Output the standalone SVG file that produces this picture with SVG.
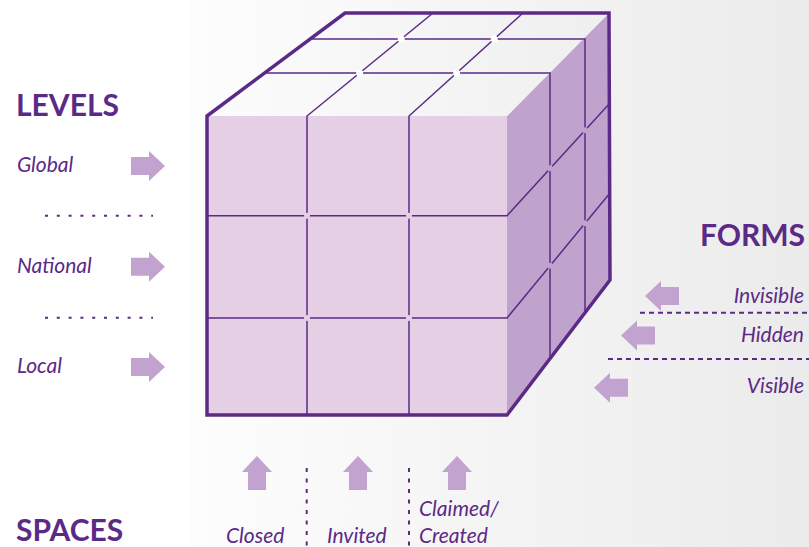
<svg xmlns="http://www.w3.org/2000/svg" width="809" height="547" viewBox="0 0 809 547">
<defs>
<linearGradient id="bg" x1="0" y1="0" x2="1" y2="0">
<stop offset="0" stop-color="#fdfdfd"/>
<stop offset="1" stop-color="#ebebeb"/>
</linearGradient>
<linearGradient id="topg" x1="0" y1="0" x2="1" y2="0">
<stop offset="0" stop-color="#fcfcfc"/>
<stop offset="1" stop-color="#efefef"/>
</linearGradient>
<path id="arr" d="M0,-9 H18 V-15 L34,0 L18,15 V9 H0 Z"/>
</defs>
<style>
.lbl{font-family:Lato,"Open Sans",sans-serif;font-style:italic;font-size:21px;fill:#5b2a86}
.hd{font-family:Lato,"Open Sans",sans-serif;font-weight:bold;font-size:30px;fill:#5b2a86}
.ar{fill:#c2a3cf}
.grid{stroke:#5b2a86;stroke-width:1.5;fill:none}
.dot{stroke:#5b2a86;stroke-width:2;fill:none;stroke-dasharray:3 8.8}
.dash{stroke:#5b2a86;stroke-width:2;fill:none;stroke-dasharray:5 4}
.vd{stroke:#5b2a86;stroke-width:2;fill:none;stroke-dasharray:4 6.5}
</style>
<rect width="809" height="547" fill="#ffffff"/>
<rect x="190" width="619" height="547" fill="url(#bg)"/>

<g id="cube">
<rect x="207" y="116" width="300" height="299" fill="#e5cfe4"/>
<polygon points="507,116 609,13 610,280 507,415" fill="#c0a3cc"/>
<polygon points="207,116 345,13 609,13 507,116" fill="url(#topg)"/>
<g class="grid">
<path d="M266,73 H550 V358.6"/>
<path d="M311,39 H585 V312.8"/>
<path d="M307,415 V116 L433,13"/>
<path d="M409,415 V116 L523,13"/>
<path d="M207,215.7 H507 L610,103"/>
<path d="M207,318 H507 L610,193"/>
</g>
<g fill="#ffffff">
<circle cx="359.6" cy="73" r="3.5"/><circle cx="401.2" cy="39" r="3.5"/>
<circle cx="456.6" cy="73" r="3.5"/><circle cx="494.2" cy="39" r="3.5"/>
</g>
<g fill="#e5cfe4">
<circle cx="307" cy="215.7" r="3"/><circle cx="409" cy="215.7" r="3"/>
<circle cx="307" cy="318" r="3"/><circle cx="409" cy="318" r="3"/>
</g>
<g fill="#c0a3cc">
<circle cx="550" cy="168.2" r="3"/><circle cx="585" cy="130.2" r="3"/>
<circle cx="550" cy="265.8" r="3"/><circle cx="585" cy="223.3" r="3"/>
</g>
<polygon points="207,116 345,13 609,13 610,280 507,415 207,415" fill="none" stroke="#5b2a86" stroke-width="3.5" stroke-linejoin="miter"/>
</g>

<g id="levels">
<text class="hd" x="16" y="116">LEVELS</text>
<text class="lbl" x="17" y="172">Global</text>
<text class="lbl" x="17" y="273">National</text>
<text class="lbl" x="17" y="373">Local</text>
<use href="#arr" class="ar" x="131" y="166"/>
<use href="#arr" class="ar" x="131" y="266.7"/>
<use href="#arr" class="ar" x="131" y="367"/>
<line class="dot" x1="45" y1="215.7" x2="153" y2="215.7"/>
<line class="dot" x1="45" y1="317.7" x2="153" y2="317.7"/>
</g>

<g id="forms">
<text class="hd" x="805" y="246" text-anchor="end">FORMS</text>
<text class="lbl" x="804" y="303" text-anchor="end">Invisible</text>
<text class="lbl" x="804" y="342" text-anchor="end">Hidden</text>
<text class="lbl" x="804" y="393" text-anchor="end">Visible</text>
<use href="#arr" class="ar" transform="translate(679,296) scale(-1,1)"/>
<use href="#arr" class="ar" transform="translate(655,335.5) scale(-1,1)"/>
<use href="#arr" class="ar" transform="translate(628,387.7) scale(-1,1)"/>
<line class="dash" x1="640" y1="312.7" x2="809" y2="312.7"/>
<line class="dash" x1="608" y1="359" x2="809" y2="359"/>
</g>

<g id="spaces">
<text class="hd" x="16" y="541">SPACES</text>
<text class="lbl" x="226" y="543">Closed</text>
<text class="lbl" x="327" y="543">Invited</text>
<text class="lbl" x="419" y="516">Claimed/</text>
<text class="lbl" x="419" y="543">Created</text>
<use href="#arr" class="ar" transform="translate(257,490) rotate(-90)"/>
<use href="#arr" class="ar" transform="translate(358,490) rotate(-90)"/>
<use href="#arr" class="ar" transform="translate(457,490) rotate(-90)"/>
<line class="vd" x1="306.7" y1="468" x2="306.7" y2="547"/>
<line class="vd" x1="409" y1="468" x2="409" y2="547"/>
</g>
</svg>
